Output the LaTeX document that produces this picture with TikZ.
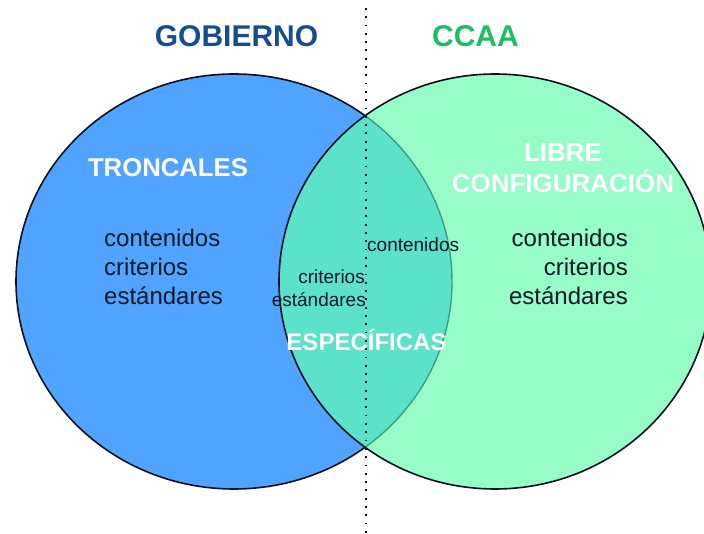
\documentclass[tikz,border=0pt]{standalone}
\usepackage{fontspec}
\setmainfont{Liberation Sans}
\definecolor{bluefill}{RGB}{80,164,255}
\definecolor{greenfill}{RGB}{150,252,200}
\definecolor{interfill}{RGB}{92,226,200}
\definecolor{dimline}{RGB}{62,158,128}
\definecolor{outline}{RGB}{12,16,30}
\definecolor{govblue}{RGB}{22,76,148}
\definecolor{ccaagreen}{RGB}{28,190,100}
\definecolor{bodytxt}{RGB}{15,25,40}
\tikzset{
  title/.style={font=\fontsize{30}{34}\selectfont\bfseries, inner sep=0pt, anchor=base},
  whitelbl/.style={font=\fontsize{25.7}{30}\selectfont\bfseries, text=white, inner sep=0pt, anchor=base},
  bigtxt/.style={font=\fontsize{24}{29}\selectfont, text=bodytxt, inner sep=0pt},
  smalltxt/.style={font=\fontsize{19}{23}\selectfont, text=bodytxt, inner sep=0pt},
  rim/.style={line width=1.6pt, draw=outline},
}
\begin{document}
\begin{tikzpicture}[x=1pt,y=-1pt]
\useasboundingbox (0,0) rectangle (704,534);
\clip (0,0) rectangle (704,534);
% left set
\fill[bluefill] (234,281.5) ellipse [x radius=218, y radius=207.5];
\draw[rim] (234,281.5) ellipse [x radius=218, y radius=207.5];
% right set
\fill[greenfill] (495,281.5) ellipse [x radius=216, y radius=207.5];
\begin{scope}
  \clip (495,281.5) ellipse [x radius=216, y radius=207.5];
  \fill[interfill] (234,281.5) ellipse [x radius=218, y radius=207.5];
  \draw[line width=1.4pt, dimline] (234,281.5) ellipse [x radius=218, y radius=207.5];
\end{scope}
\draw[rim] (495,281.5) ellipse [x radius=216, y radius=207.5];
% divider
\coordinate (dtop) at (366,8);
\coordinate (dbot) at (366,534);
\draw[outline, line width=1.8pt, dash pattern=on 1.8pt off 6.5pt] (dtop) -- (dbot);
% titles
\node[title, text=govblue] (gob) at (236.5,46.7) {GOBIERNO};
\node[title, text=ccaagreen] (ccaa) at (475.5,46.7) {CCAA};
% white labels
\node[whitelbl] (tron) at (168,177) {TRONCALES};
\node[whitelbl, font=\fontsize{26}{30}\selectfont\bfseries] (libre) at (563,162) {LIBRE};
\node[whitelbl, font=\fontsize{26}{30}\selectfont\bfseries] (config) at (563,193) {CONFIGURACIÓN};
\node[whitelbl, font=\fontsize{24}{28}\selectfont\bfseries] (espec) at (366.5,351) {ESPECÍFICAS};
% left group
\node[bigtxt, anchor=base west] (lc) at (104,247) {contenidos};
\node[bigtxt, anchor=base west] (lcr) at (104,276) {criterios};
\node[bigtxt, anchor=base west] (le) at (104,305) {estándares};
% right group
\node[bigtxt, anchor=base east] (rc) at (628,247) {contenidos};
\node[bigtxt, anchor=base east] (rcr) at (628,276) {criterios};
\node[bigtxt, anchor=base east] (re) at (628,305) {estándares};
% middle group
\node[smalltxt, anchor=base west] (mc) at (367,252) {contenidos};
\node[smalltxt, anchor=base east] (mcr) at (365,284) {criterios};
\node[smalltxt, anchor=base east] (me) at (366,307) {estándares};
\end{tikzpicture}
\end{document}
